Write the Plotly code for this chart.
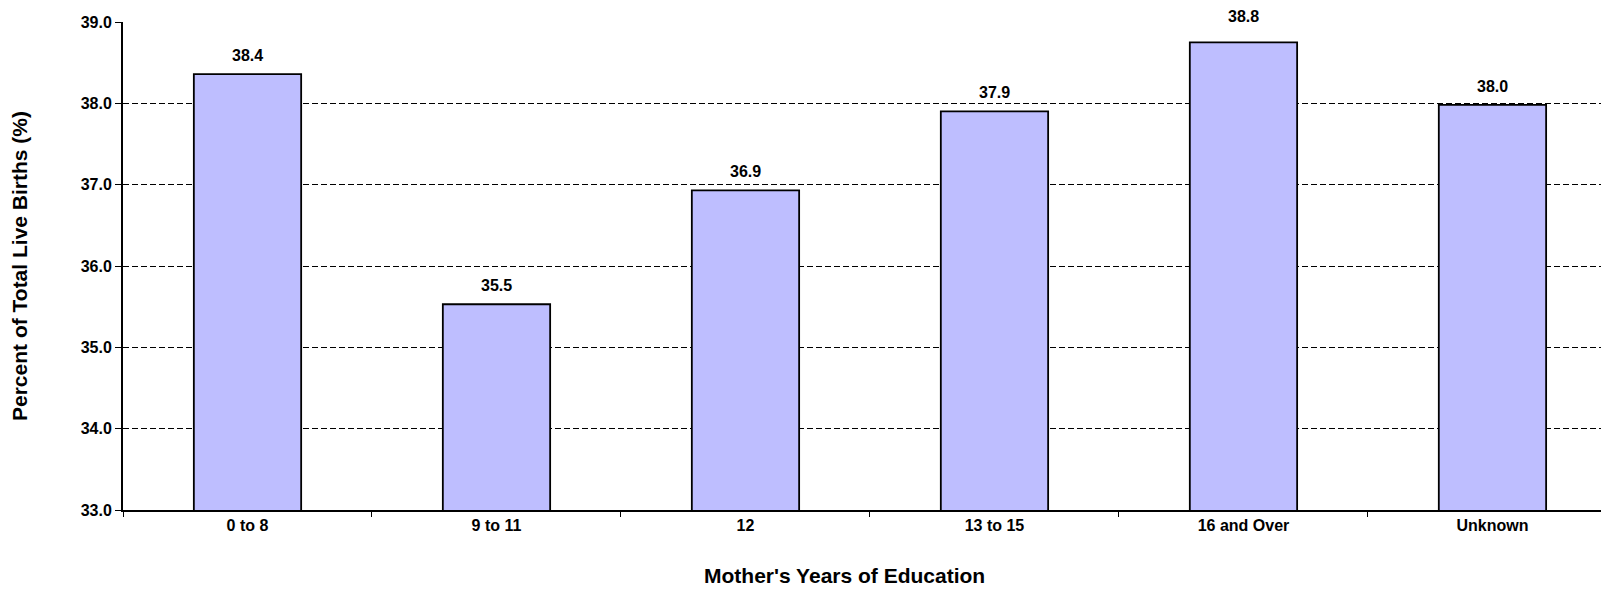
import plotly.graph_objects as go

# mother's years of education vs percent of total live births
categories = ["0 to 8", "9 to 11", "12", "13 to 15", "16 and Over", "Unknown"]
percent = [38.36, 35.53, 36.93, 37.90, 38.75, 37.98]
labels = ["38.4", "35.5", "36.9", "37.9", "38.8", "38.0"]

FONT = "Liberation Sans, Arial, sans-serif"

fig = go.Figure()
fig.add_trace(go.Bar(
    x=categories,
    y=percent,
    width=0.431,
    marker=dict(color="#BEBEFF", line=dict(color="black", width=1.8)),
    hoverinfo="x+y",
))

# value labels above each bar (the one touching the top gridline sits higher)
for i, (v, t) in enumerate(zip(percent, labels)):
    fig.add_annotation(
        x=i, y=v, text=t, showarrow=False,
        yanchor="bottom", yshift=15 if v > 38.6 else 8,
        font=dict(family=FONT, size=16, color="black", weight="bold"),
    )

# x title is centred on the chart area, a little left of the plot centre
fig.add_annotation(
    xref="paper", yref="paper", x=0.4852, y=-0.134,
    xanchor="center", yanchor="middle", showarrow=False,
    text="Mother's Years of Education",
    font=dict(family=FONT, size=21, color="black", weight="bold"),
)

# page body has an 8px margin, so the figure is a bit smaller than the window
fig.update_layout(
    width=1601, height=581,
    margin=dict(l=115, r=0, t=14, b=79),
    plot_bgcolor="white", paper_bgcolor="white",
    showlegend=False,
    font=dict(family=FONT, size=16, color="black", weight="bold"),
)
fig.update_xaxes(
    type="category",
    range=[-0.5, 5.468],
    showline=True, linecolor="black", linewidth=2,
    ticks="outside", tickson="boundaries", ticklen=5, tickcolor="black",
    showgrid=False,
    tickfont=dict(family=FONT, size=16, weight="bold"),
)
fig.update_yaxes(
    range=[33, 39], dtick=1, tickformat=".1f",
    showline=True, linecolor="black", linewidth=2,
    ticks="outside", ticklen=6, tickcolor="black",
    showgrid=True, gridcolor="black", griddash="6px,3px", gridwidth=1,
    zeroline=False,
    tickfont=dict(family=FONT, size=16, weight="bold"),
    title=dict(text="Percent of Total Live Births (%)",
               font=dict(family=FONT, size=21, weight="bold"), standoff=49),
)

fig.write_html("out.html")
